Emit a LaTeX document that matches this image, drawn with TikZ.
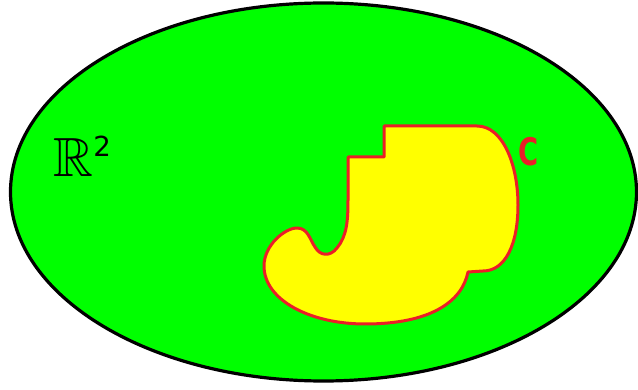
\documentclass[tikz,border=0pt]{standalone}
\usepackage{amssymb}
\usepackage{fontspec}
\newfontfamily\labelsans{DejaVu Sans}
\definecolor{plane}{RGB}{0,255,0}
\definecolor{region}{RGB}{255,255,0}
\definecolor{curve}{RGB}{235,30,40}
\begin{document}
\begin{tikzpicture}[x=1pt,y=-1pt,
  planestyle/.style={fill=plane,draw=black,line width=3.2pt},
  regionstyle/.style={fill=region,draw=curve,line width=3pt,line join=round}]
\useasboundingbox (0,0) rectangle (638,390);
\draw[planestyle] (323.5,192) ellipse [x radius=313, y radius=189];
\draw[regionstyle] (384,126) -- (477,126)
  .. controls (503,126) and (518,165) .. (518,205)
  .. controls (518,245) and (505,271) .. (483,271)
  -- (468,272)
  .. controls (462,302) and (430,324) .. (365,324)
  .. controls (310,324) and (264,300) .. (264,266)
  .. controls (264,245) and (285,228) .. (297,228)
  .. controls (308,228) and (310,240) .. (315,247)
  .. controls (320,256) and (330,257) .. (337,248)
  .. controls (347,236) and (348,220) .. (348,200)
  -- (348,157) -- (384,157) -- cycle;
\node[anchor=base west, inner sep=0pt, scale=2.3, font=\fontsize{24}{26}\selectfont] (rtwo) at (53,177) {$\mathbb{R}^{\mbox{\labelsans\fontsize{12}{14}\selectfont 2}}$};
\node[anchor=base west, inner sep=0pt, xscale=0.72, text=curve, font=\labelsans\bfseries\fontsize{38}{40}\selectfont] (clabel) at (518,166) {C};
\end{tikzpicture}
\end{document}
